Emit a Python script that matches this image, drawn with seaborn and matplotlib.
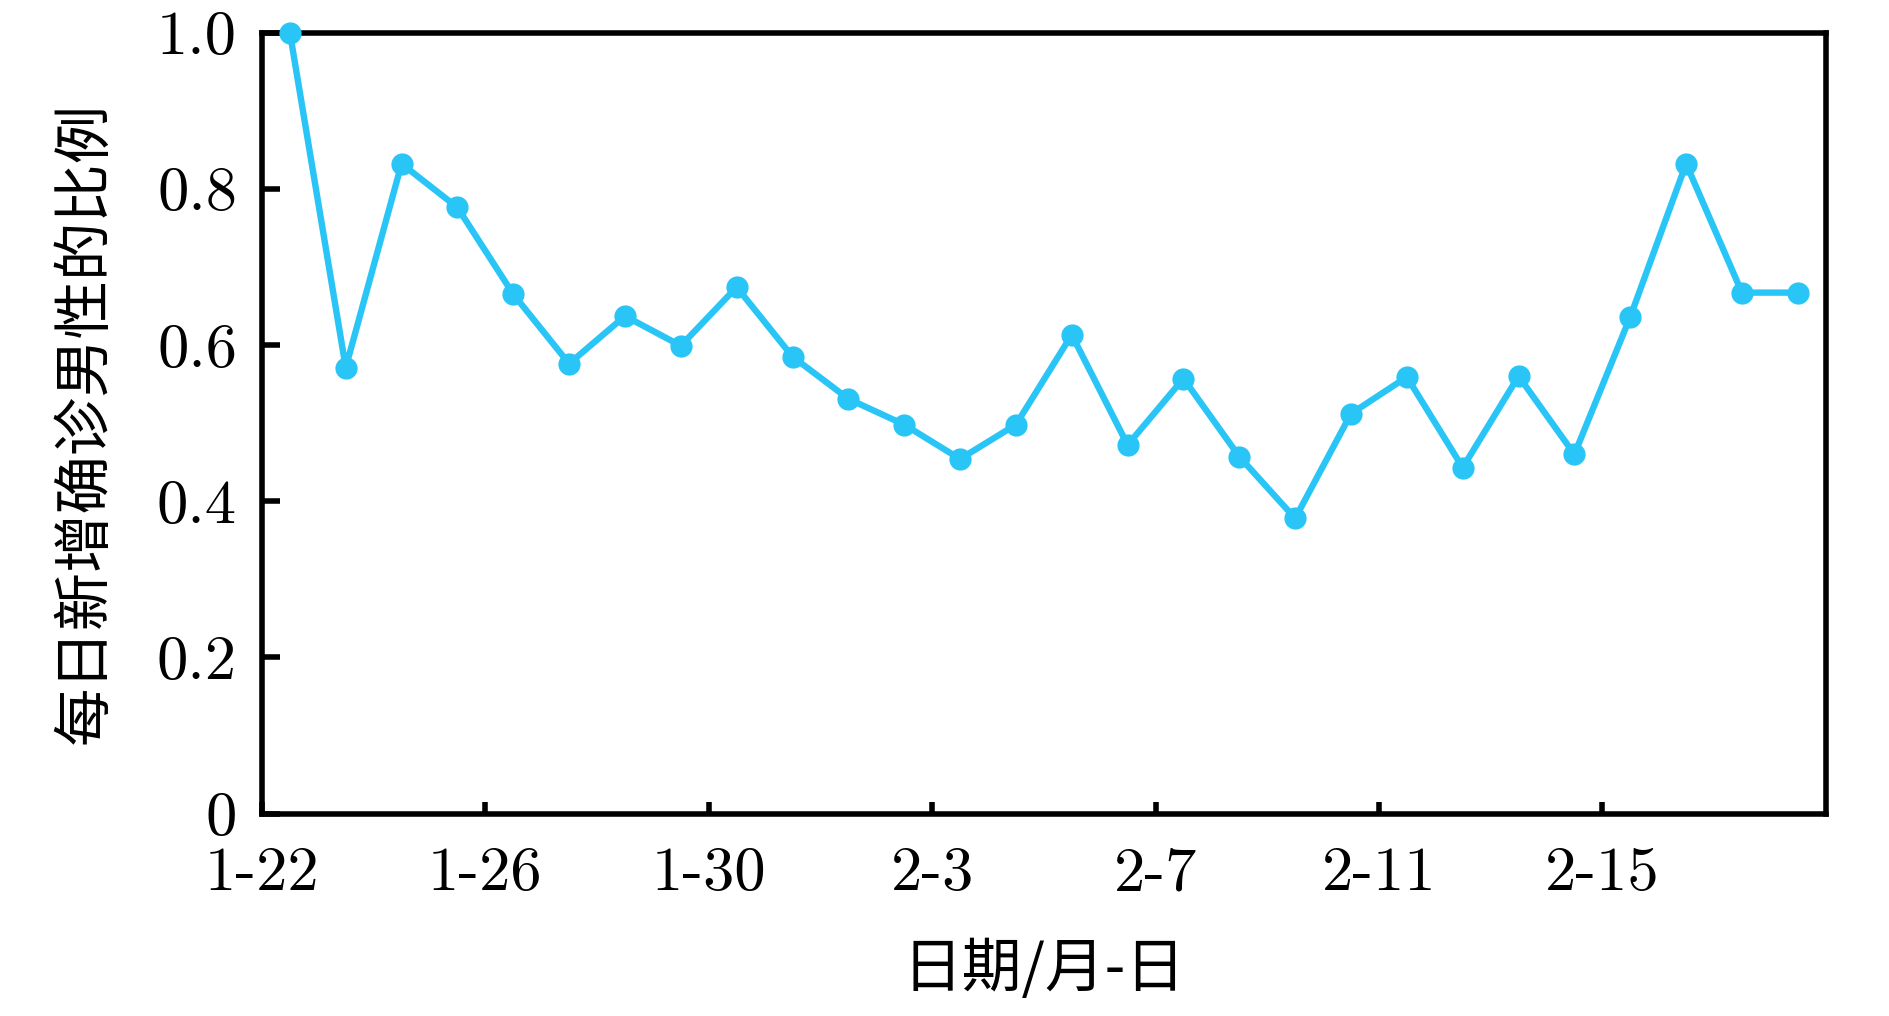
import matplotlib
matplotlib.use("Agg")
import matplotlib.pyplot as plt
import seaborn as sns
import pandas as pd
import numpy as np

# Data
day_index = list(range(28))
ratio = [1.000, 0.571, 0.832, 0.776, 0.665, 0.576, 0.637, 0.599, 0.674, 0.585,
         0.531, 0.498, 0.454, 0.498, 0.613, 0.472, 0.557, 0.457, 0.378, 0.512,
         0.559, 0.443, 0.560, 0.460, 0.636, 0.832, 0.667, 0.667]
xtick_labels = ["1-22", "1-26", "1-30", "2-3", "2-7", "2-11", "2-15"]
ytick_labels = ["0", "0.2", "0.4", "0.6", "0.8", "1.0"]
ylabel = "每日新增确诊男性的比例"
xlabel = "日期/月-日"

sns.set_theme(style="white")
plt.rcParams['font.family'] = ['cmr10', 'Noto Sans CJK SC', 'DejaVu Sans']
plt.rcParams['axes.unicode_minus'] = False
plt.rcParams['text.color'] = 'black'
plt.rcParams['axes.labelcolor'] = 'black'

df = pd.DataFrame({"x": np.array(day_index) + 0.5, "y": ratio})

fig = plt.figure(figsize=(18.9, 10.16), dpi=100)
ax = fig.add_axes([0.1386, 0.1992, 0.966 - 0.1386, 0.968 - 0.1992])
color = "#29C5F6"
sns.lineplot(data=df, x="x", y="y", ax=ax, color=color, linewidth=4.6,
             marker="o", markersize=16, markeredgewidth=0, markerfacecolor=color,
             clip_on=False, zorder=3)

ax.set_xlim(0, 28)
ax.set_ylim(0, 1.0)
ax.set_xticks(np.arange(0, 25, 4))
ax.set_xticklabels(xtick_labels)
ax.set_yticks(np.linspace(0, 1.0, 6))
ax.set_yticklabels(ytick_labels)

for s in ax.spines.values():
    s.set_visible(True)
    s.set_color("black")
    s.set_linewidth(4.0)

ax.tick_params(axis="x", direction="in", length=9, width=4.0, pad=24,
               labelsize=45, bottom=True, top=False, colors="black")
ax.tick_params(axis="y", direction="in", length=13, width=4.0, pad=18,
               labelsize=45, left=True, right=False, colors="black")

ax.set_xlabel(xlabel, fontsize=43, family=['Noto Sans CJK SC'], labelpad=27, color="black")
ax.set_ylabel(ylabel, fontsize=42, family=['Noto Sans CJK SC'], labelpad=30, color="black")
ax.grid(False)

fig.savefig("out.png", dpi=100, facecolor="white")
